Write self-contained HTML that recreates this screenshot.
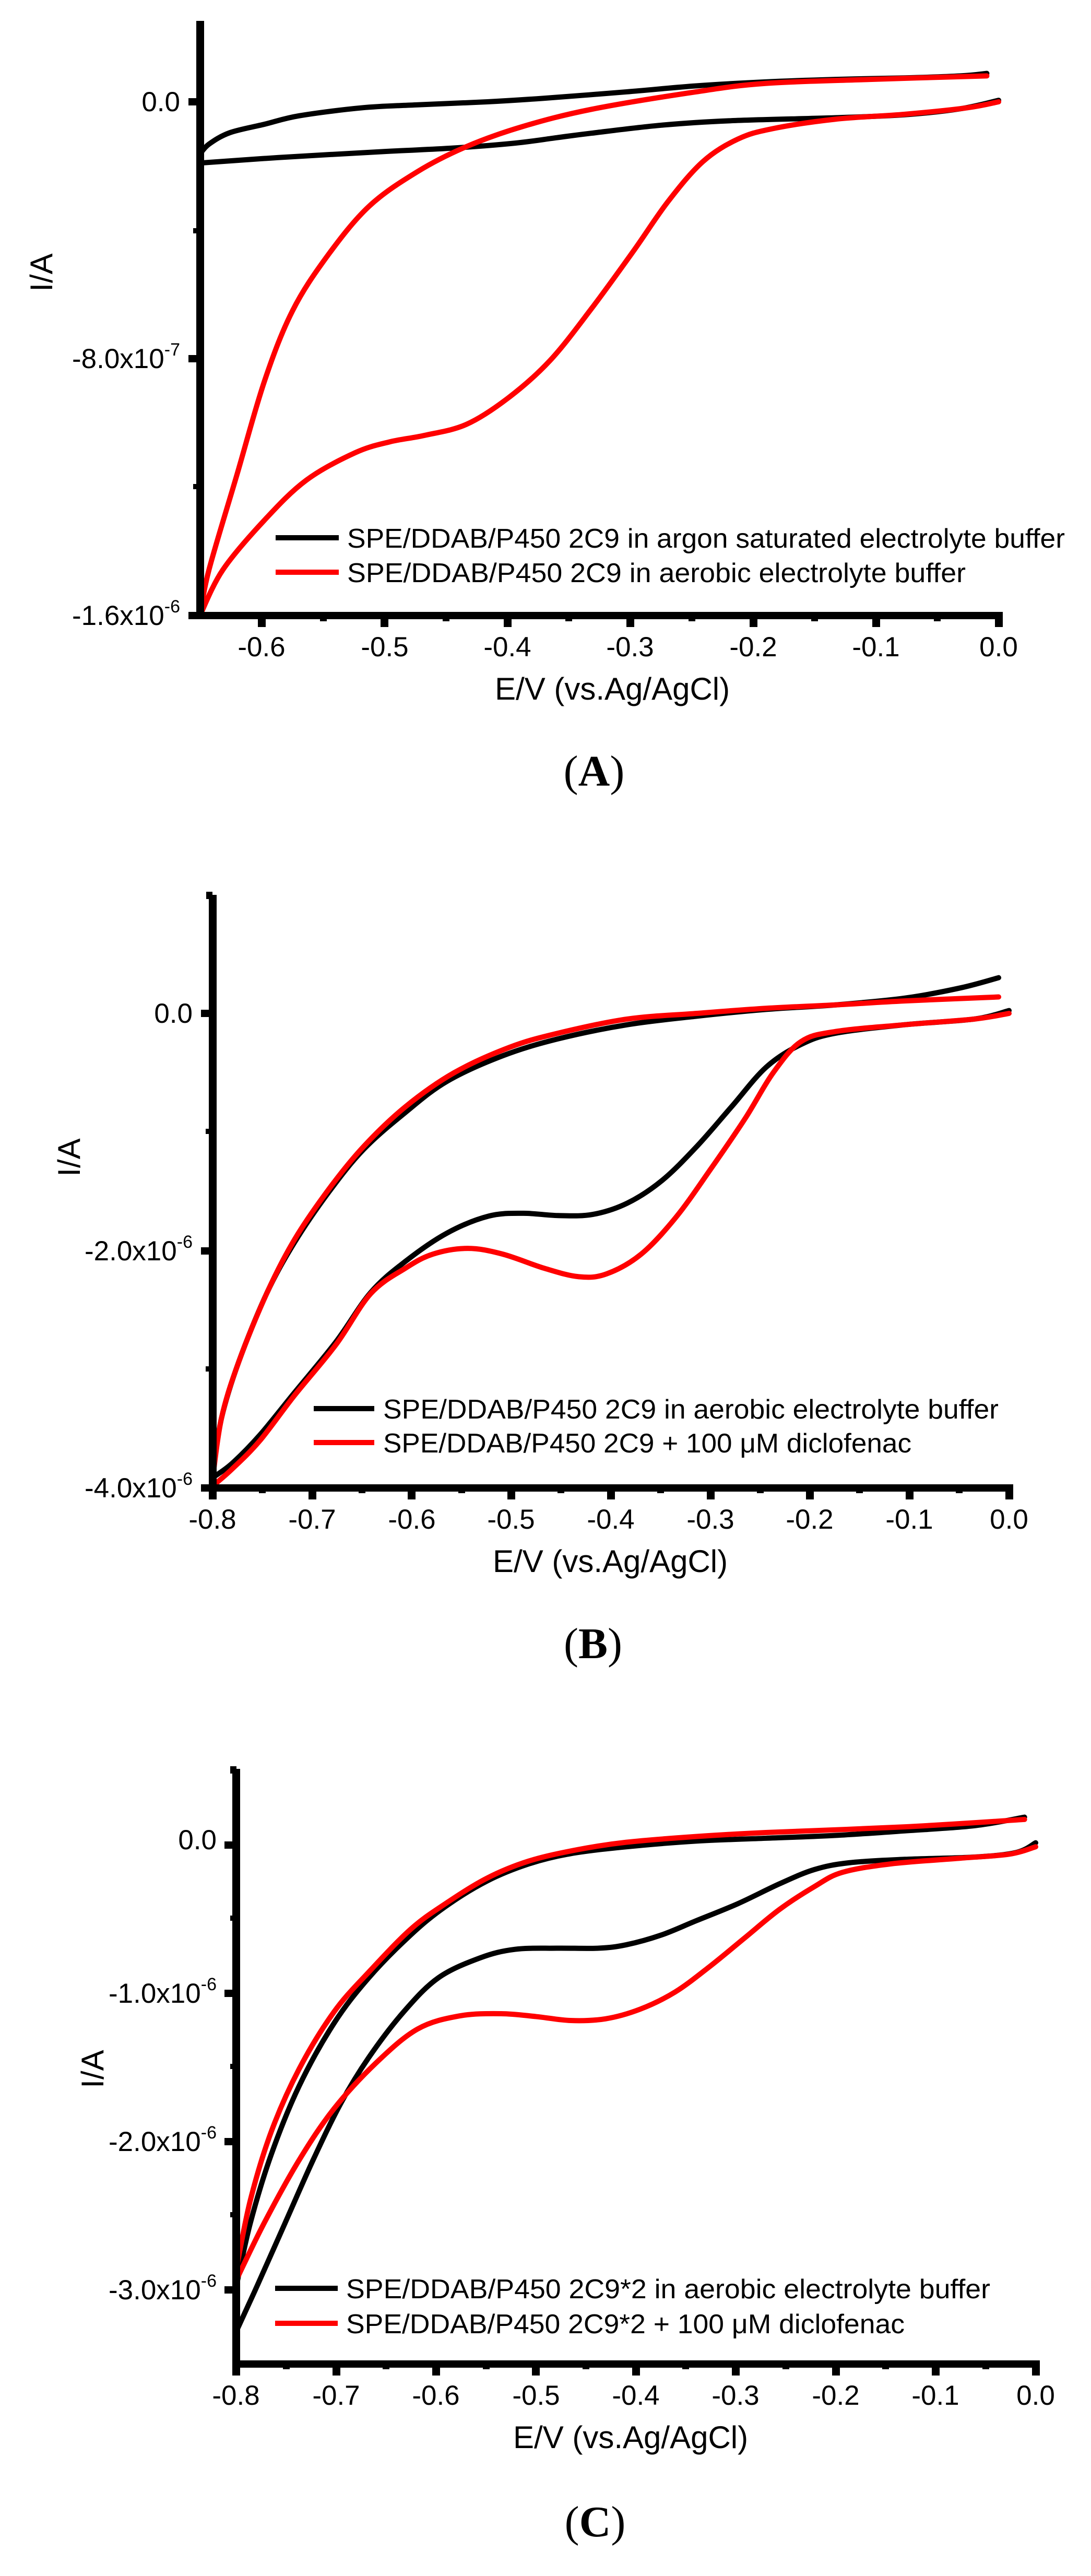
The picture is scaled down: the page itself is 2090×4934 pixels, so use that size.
<!DOCTYPE html>
<html><head><meta charset="utf-8"><style>
html,body{margin:0;padding:0;background:#fff;}
svg{display:block;}
text{font-family:"Liberation Sans",Arial,sans-serif;fill:#000;}
.tl{font-size:53px;}
.lg{font-size:52px;}
.ax{font-size:60px;}
.pl{font-family:"Liberation Serif","Times New Roman",serif;font-size:84px;}
.c{fill:none;stroke-width:10;stroke-linejoin:round;stroke-linecap:round;}
</style></head><body>
<svg id="s" width="2090" height="4934" viewBox="0 0 2090 4934" xmlns="http://www.w3.org/2000/svg">
<rect width="2090" height="4934" fill="#fff"/>

<!-- ============ PANEL A ============ -->
<g transform="translate(0.5,4.3) scale(1.3328,0.9535)">
<polyline class="c" vector-effect="non-scaling-stroke" stroke="#000" points="287,305 300,285 330,262 380,245 430,228 520,212 600,206 700,200 780,193 900,180 1000,168 1100,160 1200,155 1300,152 1380,148 1418,143"/>
<polyline class="c" vector-effect="non-scaling-stroke" stroke="#000" points="287,323 400,312 550,300 650,293 740,283 800,272 850,263 950,247 1050,238 1200,232 1300,226 1380,214 1435,197"/>
<polyline class="c" vector-effect="non-scaling-stroke" stroke="#f00" points="287,1232 300,1140 340,950 380,760 420,620 470,510 530,410 600,340 670,290 750,250 850,215 1000,180 1100,163 1250,155 1418,148"/>
<polyline class="c" vector-effect="non-scaling-stroke" stroke="#f00" points="287,1232 320,1140 380,1040 440,960 510,905 560,883 610,870 670,848 730,795 790,720 850,615 910,500 960,400 1010,320 1060,275 1110,254 1200,235 1300,225 1390,212 1435,200"/>
</g>
<rect x="376" y="40" width="15" height="1146" fill="#000"/>
<rect x="376" y="1172" width="1545" height="14" fill="#000"/>
<g fill="#000">
<rect x="361" y="188" width="20" height="14"/><rect x="361" y="680" width="20" height="14"/><rect x="361" y="1172" width="20" height="14"/>
<rect x="370" y="437" width="10" height="10"/><rect x="370" y="927" width="10" height="10"/>
<rect x="494" y="1180" width="15" height="21"/><rect x="729" y="1180" width="15" height="21"/><rect x="965" y="1180" width="15" height="21"/><rect x="1200" y="1180" width="15" height="21"/><rect x="1436" y="1180" width="15" height="21"/><rect x="1671" y="1180" width="15" height="21"/><rect x="1906" y="1180" width="15" height="21"/>
<rect x="613" y="1180" width="13" height="10"/><rect x="848" y="1180" width="13" height="10"/><rect x="1083" y="1180" width="13" height="10"/><rect x="1319" y="1180" width="13" height="10"/><rect x="1554" y="1180" width="13" height="10"/><rect x="1789" y="1180" width="13" height="10"/>
</g>
<text class="tl" x="345" y="213" text-anchor="end">0.0</text>
<text class="tl" x="345" y="705" text-anchor="end">-8.0x10<tspan dy="-24" font-size="34">-7</tspan></text>
<text class="tl" x="345" y="1197" text-anchor="end">-1.6x10<tspan dy="-24" font-size="34">-6</tspan></text>
<g class="tl" text-anchor="middle">
<text x="501" y="1257">-0.6</text><text x="737" y="1257">-0.5</text><text x="972" y="1257">-0.4</text><text x="1207" y="1257">-0.3</text><text x="1443" y="1257">-0.2</text><text x="1678" y="1257">-0.1</text><text x="1913" y="1257">0.0</text>
</g>
<text class="ax" x="948" y="1340">E/V (vs.Ag/AgCl)</text>
<text class="ax" transform="translate(100,522) rotate(-90)" text-anchor="middle">I/A</text>
<rect x="528" y="1025" width="121" height="10" fill="#000"/>
<rect x="528" y="1091" width="121" height="10" fill="#f00"/>
<text class="lg" x="665" y="1049" textLength="1375" lengthAdjust="spacingAndGlyphs">SPE/DDAB/P450 2C9 in argon saturated electrolyte buffer</text>
<text class="lg" x="665" y="1115" textLength="1185" lengthAdjust="spacingAndGlyphs">SPE/DDAB/P450 2C9 in aerobic electrolyte buffer</text>
<text class="pl" x="1138" y="1505" text-anchor="middle">(<tspan font-weight="bold">A</tspan>)</text>

<!-- ============ PANEL B ============ -->
<g transform="translate(5.5,1501.7) scale(1.3293,1.0847)">
<polyline class="c" vector-effect="non-scaling-stroke" stroke="#000" points="1435,342 1380,360 1300,378 1200,390 1100,398 1000,410 900,425 800,450 720,480 640,525 580,580 520,645 470,720 420,810 380,900 340,1020 315,1120 302,1220"/>
<polyline class="c" vector-effect="non-scaling-stroke" stroke="#000" points="302,1225 330,1200 370,1150 420,1075 480,985 530,898 580,843 640,793 700,763 750,758 800,762 850,760 900,740 950,700 1000,640 1050,570 1100,500 1150,460 1200,440 1300,425 1400,415 1450,400"/>
<polyline class="c" vector-effect="non-scaling-stroke" stroke="#f00" points="1435,376 1300,383 1200,390 1100,396 1000,405 900,415 800,440 730,465 650,510 580,570 520,640 470,715 420,805 380,900 340,1020 315,1120 302,1230"/>
<polyline class="c" vector-effect="non-scaling-stroke" stroke="#f00" points="302,1240 330,1210 370,1160 420,1080 480,990 530,900 580,855 620,830 670,820 720,830 780,855 830,870 870,865 920,830 970,765 1020,680 1070,590 1110,510 1150,455 1200,437 1300,425 1400,415 1450,405"/>
</g>
<rect x="400" y="1714" width="15" height="1143" fill="#000"/>
<rect x="400" y="2843" width="1541" height="14" fill="#000"/>
<g fill="#000">
<rect x="395" y="1708" width="12" height="14"/>
<rect x="385" y="1934" width="20" height="14"/><rect x="385" y="2389" width="20" height="14"/><rect x="385" y="2843" width="20" height="14"/>
<rect x="394" y="2162" width="10" height="10"/><rect x="394" y="2617" width="10" height="10"/>
<rect x="400" y="2850" width="15" height="22"/><rect x="591" y="2850" width="15" height="22"/><rect x="781" y="2850" width="15" height="22"/><rect x="972" y="2850" width="15" height="22"/><rect x="1163" y="2850" width="15" height="22"/><rect x="1354" y="2850" width="15" height="22"/><rect x="1544" y="2850" width="15" height="22"/><rect x="1735" y="2850" width="15" height="22"/><rect x="1926" y="2850" width="15" height="22"/>
<rect x="496" y="2850" width="13" height="10"/><rect x="687" y="2850" width="13" height="10"/><rect x="878" y="2850" width="13" height="10"/><rect x="1068" y="2850" width="13" height="10"/><rect x="1259" y="2850" width="13" height="10"/><rect x="1450" y="2850" width="13" height="10"/><rect x="1640" y="2850" width="13" height="10"/><rect x="1831" y="2850" width="13" height="10"/>
</g>
<text class="tl" x="369" y="1959" text-anchor="end">0.0</text>
<text class="tl" x="369" y="2414" text-anchor="end">-2.0x10<tspan dy="-24" font-size="34">-6</tspan></text>
<text class="tl" x="369" y="2868" text-anchor="end">-4.0x10<tspan dy="-24" font-size="34">-6</tspan></text>
<g class="tl" text-anchor="middle">
<text x="407" y="2928">-0.8</text><text x="598" y="2928">-0.7</text><text x="789" y="2928">-0.6</text><text x="979" y="2928">-0.5</text><text x="1170" y="2928">-0.4</text><text x="1361" y="2928">-0.3</text><text x="1551" y="2928">-0.2</text><text x="1742" y="2928">-0.1</text><text x="1933" y="2928">0.0</text>
</g>
<text class="ax" x="944" y="3011">E/V (vs.Ag/AgCl)</text>
<text class="ax" transform="translate(153,2217) rotate(-90)" text-anchor="middle">I/A</text>
<rect x="601" y="2693" width="116" height="10" fill="#000"/>
<rect x="601" y="2758" width="116" height="10" fill="#f00"/>
<text class="lg" x="734" y="2717" textLength="1179" lengthAdjust="spacingAndGlyphs">SPE/DDAB/P450 2C9 in aerobic electrolyte buffer</text>
<text class="lg" x="734" y="2782" textLength="1012" lengthAdjust="spacingAndGlyphs">SPE/DDAB/P450 2C9 + 100 μM diclofenac</text>
<text class="pl" x="1136" y="3176" text-anchor="middle">(<tspan font-weight="bold">B</tspan>)</text>

<!-- ============ PANEL C ============ -->
<g transform="translate(-0.4,3210) scale(1.3336,1.091)">
<polyline class="c" vector-effect="non-scaling-stroke" stroke="#000" points="1472,248 1400,263 1300,272 1200,280 1100,285 1000,290 900,300 820,312 760,330 700,360 640,405 590,455 530,530 480,610 430,720 390,840 360,960 340,1070"/>
<polyline class="c" vector-effect="non-scaling-stroke" stroke="#000" points="340,1150 370,1070 410,960 450,850 490,750 530,670 580,590 630,530 690,495 740,480 800,478 860,478 900,472 950,455 1000,430 1060,400 1120,365 1170,340 1220,328 1300,322 1400,318 1460,310 1488,293"/>
<polyline class="c" vector-effect="non-scaling-stroke" stroke="#f00" points="1472,252 1300,265 1100,275 1000,282 900,292 830,305 760,325 700,355 640,400 590,445 530,520 480,590 430,690 390,800 360,920 340,1040"/>
<polyline class="c" vector-effect="non-scaling-stroke" stroke="#f00" points="340,1060 380,960 430,850 480,760 540,680 600,620 660,597 720,593 770,598 820,605 870,602 920,585 970,555 1020,510 1070,460 1120,410 1170,370 1210,345 1280,330 1380,320 1450,313 1488,300"/>
</g>
<rect x="445" y="3388" width="15" height="1147" fill="#000"/>
<rect x="445" y="4521" width="1547" height="14" fill="#000"/>
<g fill="#000">
<rect x="441" y="3383" width="12" height="14"/>
<rect x="430" y="3527" width="20" height="14"/><rect x="430" y="3811" width="20" height="14"/><rect x="430" y="4095" width="20" height="14"/><rect x="430" y="4379" width="20" height="14"/>
<rect x="441" y="3669" width="10" height="10"/><rect x="441" y="3953" width="10" height="10"/><rect x="441" y="4237" width="10" height="10"/>
<rect x="445" y="4528" width="15" height="22"/><rect x="637" y="4528" width="15" height="22"/><rect x="828" y="4528" width="15" height="22"/><rect x="1019" y="4528" width="15" height="22"/><rect x="1211" y="4528" width="15" height="22"/><rect x="1402" y="4528" width="15" height="22"/><rect x="1594" y="4528" width="15" height="22"/><rect x="1785" y="4528" width="15" height="22"/><rect x="1977" y="4528" width="15" height="22"/>
<rect x="542" y="4528" width="13" height="10"/><rect x="733" y="4528" width="13" height="10"/><rect x="925" y="4528" width="13" height="10"/><rect x="1116" y="4528" width="13" height="10"/><rect x="1307" y="4528" width="13" height="10"/><rect x="1499" y="4528" width="13" height="10"/><rect x="1690" y="4528" width="13" height="10"/><rect x="1882" y="4528" width="13" height="10"/>
</g>
<text class="tl" x="415" y="3542" text-anchor="end">0.0</text>
<text class="tl" x="415" y="3836" text-anchor="end">-1.0x10<tspan dy="-24" font-size="34">-6</tspan></text>
<text class="tl" x="415" y="4120" text-anchor="end">-2.0x10<tspan dy="-24" font-size="34">-6</tspan></text>
<text class="tl" x="415" y="4404" text-anchor="end">-3.0x10<tspan dy="-24" font-size="34">-6</tspan></text>
<g class="tl" text-anchor="middle">
<text x="452" y="4606">-0.8</text><text x="644" y="4606">-0.7</text><text x="835" y="4606">-0.6</text><text x="1027" y="4606">-0.5</text><text x="1218" y="4606">-0.4</text><text x="1409" y="4606">-0.3</text><text x="1601" y="4606">-0.2</text><text x="1792" y="4606">-0.1</text><text x="1984" y="4606">0.0</text>
</g>
<text class="ax" x="983" y="4689">E/V (vs.Ag/AgCl)</text>
<text class="ax" transform="translate(198,3963) rotate(-90)" text-anchor="middle">I/A</text>
<rect x="527" y="4378" width="120" height="10" fill="#000"/>
<rect x="527" y="4445" width="120" height="10" fill="#f00"/>
<text class="lg" x="663" y="4402" textLength="1234" lengthAdjust="spacingAndGlyphs">SPE/DDAB/P450 2C9*2 in aerobic electrolyte buffer</text>
<text class="lg" x="663" y="4469" textLength="1070" lengthAdjust="spacingAndGlyphs">SPE/DDAB/P450 2C9*2 + 100 μM diclofenac</text>
<text class="pl" x="1140" y="4858" text-anchor="middle">(<tspan font-weight="bold">C</tspan>)</text>
</svg>
<script>
(function(){
  var NS="http://www.w3.org/2000/svg";
  var pls=document.querySelectorAll("polyline.c");
  for(var k=0;k<pls.length;k++){
    var pl=pls[k];
    var raw=pl.getAttribute("points").trim().split(/\s+/).map(function(s){var a=s.split(",");return [parseFloat(a[0]),parseFloat(a[1])];});
    var n=raw.length;
    var d="M"+raw[0][0]+","+raw[0][1];
    for(var i=0;i<n-1;i++){
      var p0=raw[Math.max(0,i-1)],p1=raw[i],p2=raw[i+1],p3=raw[Math.min(n-1,i+2)];
      var c1x=p1[0]+(p2[0]-p0[0])/6,c1y=p1[1]+(p2[1]-p0[1])/6;
      var c2x=p2[0]-(p3[0]-p1[0])/6,c2y=p2[1]-(p3[1]-p1[1])/6;
      d+=" C"+c1x.toFixed(2)+","+c1y.toFixed(2)+" "+c2x.toFixed(2)+","+c2y.toFixed(2)+" "+p2[0]+","+p2[1];
    }
    var p=document.createElementNS(NS,"path");
    p.setAttribute("d",d);
    p.setAttribute("class","c");
    p.setAttribute("vector-effect","non-scaling-stroke");
    p.setAttribute("stroke",pl.getAttribute("stroke"));
    pl.parentNode.replaceChild(p,pl);
  }
})();
</script>
</body></html>
